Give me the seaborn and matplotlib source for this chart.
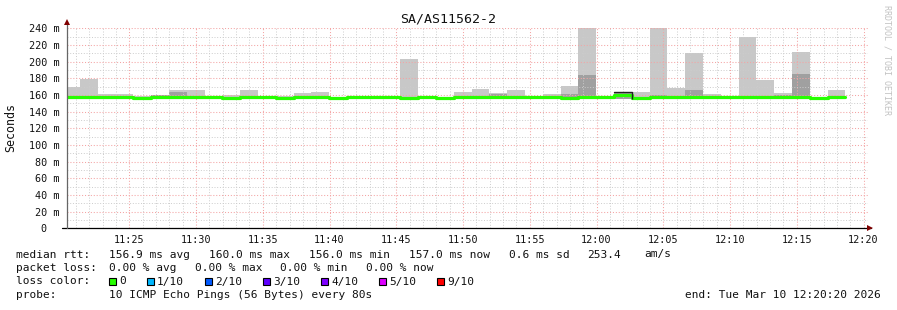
import numpy as np
import pandas as pd
import matplotlib
matplotlib.use("Agg")
import matplotlib.pyplot as plt
import matplotlib.dates as mdates
from matplotlib.ticker import MultipleLocator, FixedLocator, FixedFormatter
from matplotlib.patches import Rectangle
import seaborn as sns

# ---------------- data ----------------
window_start = "2026-03-10 11:20:20"
window_end = "2026-03-10 12:20:20"
first_full_step = "2026-03-10 11:21:18"
step_seconds = 80

median_ms = [157, 157, 157, 157, 156, 157, 157, 157, 157, 156,
             157, 157, 156, 157, 157, 156, 157, 157, 157, 156,
             157, 156, 157, 157, 157, 157, 157, 157, 156, 158,
             157, 160, 156, 157, 157, 157, 157, 157, 157, 157,
             157, 157, 156, 157]
smoke_max_ms = [169, 179, 161, 161, 159, 160, 166, 166, 158, 160,
                166, 158, 159, 162, 163, 157, 158, 158, 158, 203,
                158, 157, 163, 167, 162, 166, 158, 161, 171, 245,
                158, 163, 164, 245, 168, 210, 161, 158, 229, 178,
                162, 212, 157, 166]
nan = float("nan")
smoke_dark_ms = [nan, nan, nan, nan, nan, 160, 163, nan, nan, nan,
                 nan, nan, nan, nan, nan, nan, nan, nan, nan, nan,
                 nan, nan, nan, nan, 161, nan, nan, nan, 161, 184,
                 nan, 163, nan, 160, nan, 166, nan, nan, nan, nan,
                 160, 185, nan, nan]
smoke_min_ms = [156, 156, 156, 156, 155, 156, 156, 156, 156, 155,
                156, 156, 155, 156, 156, 155, 156, 156, 156, 155,
                156, 155, 156, 156, 156, 156, 156, 156, 155, 157,
                156, 155.5, 155, 156, 156, 156, 156, 156, 156, 156,
                156, 156, 155, 156]
edge_top_ms = [nan] * 31 + [163] + [nan] * 12

x_tick_labels = ["11:25", "11:30", "11:35", "11:40", "11:45", "11:50",
                 "11:55", "12:00", "12:05", "12:10", "12:15", "12:20"]
y_tick_values = [0, 20, 40, 60, 80, 100, 120, 140, 160, 180, 200, 220, 240]
y_tick_labels = ["0  ", "20 m", "40 m", "60 m", "80 m", "100 m", "120 m",
                 "140 m", "160 m", "180 m", "200 m", "220 m", "240 m"]

title = "SA/AS11562-2"
legend_rows = [
    [("median rtt:", 0), ("156.9 ms avg", 13), ("160.0 ms max", 27),
     ("156.0 ms min", 41), ("157.0 ms now", 55), ("0.6 ms sd", 69),
     ("253.4", 80), ("am/s", 88)],
    [("packet loss:", 0), ("0.00 % avg", 13), ("0.00 % max", 25),
     ("0.00 % min", 37), ("0.00 % now", 49)],
    [("loss color:", 0)],
    [("probe:", 0), ("10 ICMP Echo Pings (56 Bytes) every 80s", 13)],
]
loss_labels = ["0", "1/10", "2/10", "3/10", "4/10", "5/10", "9/10"]
loss_colors = ["#26ff00", "#00b8ff", "#0059ff", "#5e00ff", "#7e00ff", "#dd00ff", "#ff0000"]
end_text = "end: Tue Mar 10 12:20:20 2026"

# ---------------- build step table ----------------
n = len(median_ms)
starts = [pd.Timestamp(window_start)] + list(
    pd.date_range(first_full_step, periods=n - 1, freq=f"{step_seconds}s"))
last_end = starts[-1] + pd.Timedelta(seconds=step_seconds)
edges = starts + [last_end]
xs = mdates.date2num([t.to_pydatetime() for t in edges])

def ext(v):
    return list(v) + [v[-1]]

df = pd.DataFrame({"t": xs, "median": ext(median_ms)})
dark_top = [d if not np.isnan(d) else m for d, m in zip(smoke_dark_ms, smoke_min_ms)]

# ---------------- figure ----------------
sns.set_theme(style="white")
plt.rcParams["font.family"] = ["DejaVu Sans Mono", "DejaVu Sans"]
W, H = 897, 310
fig = plt.figure(figsize=(W / 100, H / 100), dpi=100)
fig.patch.set_facecolor("white")
ax_l, ax_r, ax_t, ax_b = 67, 868, 28.3, 228.3
ax = fig.add_axes([ax_l / W, (H - ax_b) / H, (ax_r - ax_l) / W, (ax_b - ax_t) / H])
ax.set_facecolor("white")

light = "#c8c8c8"
dark = "#a0a0a0"
green = "#26ff00"

ax.fill_between(xs, ext(smoke_min_ms), ext(smoke_max_ms), step="post",
                color=light, linewidth=0, zorder=1)
ax.fill_between(xs, ext(smoke_min_ms), ext(dark_top), step="post",
                color=dark, linewidth=0, zorder=1.1)

sns.lineplot(data=df, x="t", y="median", drawstyle="steps-post", color=green,
             linewidth=2.3, estimator=None, ax=ax, zorder=4)
ax.step(xs, ext(edge_top_ms), where="post", color="#222222", linewidth=1.0, zorder=4.5)
i_edge = int(np.nanargmax(np.array(edge_top_ms)))
ax.vlines(xs[i_edge + 1], smoke_min_ms[i_edge] - 0.5, edge_top_ms[i_edge],
          color="#222222", linewidth=1.0, zorder=4.5)

t0 = mdates.date2num(pd.Timestamp(window_start).to_pydatetime())
t1 = mdates.date2num(pd.Timestamp(window_end).to_pydatetime())
ax.set_xlim(t0, t1)
ax.set_ylim(0, 240)

# ticks
ax.xaxis.set_major_locator(mdates.MinuteLocator(byminute=range(0, 60, 5)))
ax.xaxis.set_minor_locator(mdates.MinuteLocator())
ax.xaxis.set_major_formatter(FixedFormatter(x_tick_labels))
ax.yaxis.set_major_locator(FixedLocator(y_tick_values))
ax.yaxis.set_major_formatter(FixedFormatter(y_tick_labels))
ax.yaxis.set_minor_locator(MultipleLocator(10))

ax.grid(which="minor", color="#cccccc", linestyle=(0, (1, 1.8)), linewidth=0.7, zorder=2.5)
ax.grid(which="major", color="#f4a4a4", linestyle=(0, (1, 1.8)), linewidth=0.75, zorder=2.6)
ax.set_axisbelow(False)

ax.tick_params(axis="x", which="major", direction="inout", length=4, width=0.7,
               color="#333333", pad=3, labelsize=7.3, labelcolor="#111111")
ax.tick_params(axis="x", which="minor", direction="inout", length=2.5, width=0.7, color="#333333")
ax.tick_params(axis="y", which="major", direction="out", length=3, width=0.7,
               color="#555555", pad=2.2, labelsize=7.3, labelcolor="#111111")
ax.tick_params(axis="y", which="minor", length=0)
ax.set_xlabel("")
ax.set_ylabel("")
for s in ax.spines.values():
    s.set_visible(False)

# axis lines and arrows
aw = ax_r - ax_l
ah = ax_b - ax_t
ax.plot([-5 / aw, (871 - ax_l) / aw], [0, 0], transform=ax.transAxes, color="black",
        linewidth=0.9, clip_on=False, zorder=6)
ax.plot([0, 0], [0, (ax_b - 22) / ah], transform=ax.transAxes, color="#666666",
        linewidth=0.9, clip_on=False, zorder=6)
ax.plot([(870 - ax_l) / aw], [0], marker=">", markersize=4.5, color="#800000",
        transform=ax.transAxes, clip_on=False, zorder=7, markeredgewidth=0)
ax.plot([0], [(ax_b - 22.5) / ah], marker="^", markersize=4.5, color="#800000",
        transform=ax.transAxes, clip_on=False, zorder=7, markeredgewidth=0)

# texts
fig.text(448 / W, 1 - 19.5 / H, title, ha="center", va="center", fontsize=9.5, color="#111111")
fig.text(10.5 / W, 1 - 127.5 / H, "Seconds", rotation=90, ha="center", va="center",
         fontsize=8.4, color="#111111")
fig.text(887 / W, 1 - 60 / H, "RRDTOOL / TOBI OETIKER", rotation=270, ha="center",
         va="center", fontsize=6, color="#c2c2c2")

char_w = 7.14
x0 = 16
row_y = [254.5, 268, 281.5, 295]
for row, yy in zip(legend_rows, row_y):
    for txt, col in row:
        fig.text((x0 + col * char_w) / W, 1 - yy / H, txt, ha="left", va="center",
                 fontsize=8.0, color="#111111")

box_x = [108.8, 146.7, 204.7, 262.7, 320.7, 378.7, 436.7]
bs = 7
for bx, lab, c in zip(box_x, loss_labels, loss_colors):
    fig.add_artist(Rectangle((bx / W, 1 - (row_y[2] + bs / 2) / H), bs / W, bs / H,
                             transform=fig.transFigure, facecolor=c, edgecolor="black",
                             linewidth=0.8))
    fig.text((bx + 10.5) / W, 1 - row_y[2] / H, lab, ha="left", va="center",
             fontsize=8.0, color="#111111")

fig.text(881 / W, 1 - row_y[3] / H, end_text, ha="right", va="center",
         fontsize=8.0, color="#111111")

fig.savefig("out.png", dpi=100, facecolor="white")
